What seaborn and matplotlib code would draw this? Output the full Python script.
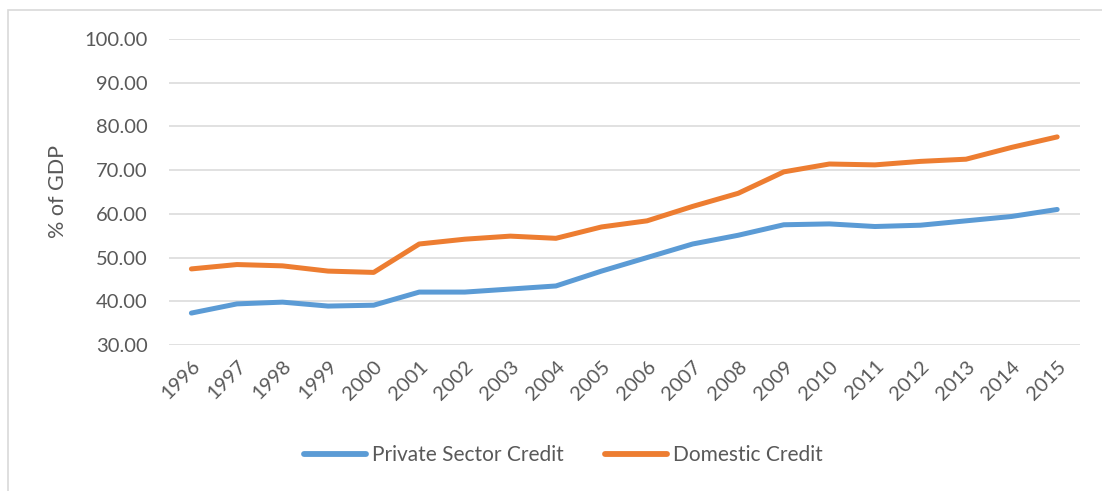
import matplotlib
matplotlib.use("Agg")
import matplotlib.pyplot as plt
import seaborn as sns
import pandas as pd
from matplotlib.patches import Rectangle
from matplotlib.lines import Line2D

years = ["1996", "1997", "1998", "1999", "2000", "2001", "2002", "2003", "2004", "2005",
         "2006", "2007", "2008", "2009", "2010", "2011", "2012", "2013", "2014", "2015"]
private_credit = [37.3, 39.4, 39.8, 38.9, 39.1, 42.1, 42.1, 42.8, 43.5, 46.9,
                  50.0, 53.1, 55.1, 57.5, 57.7, 57.1, 57.4, 58.4, 59.4, 61.0]
domestic_credit = [47.4, 48.4, 48.1, 46.9, 46.6, 53.1, 54.2, 54.9, 54.4, 57.0,
                   58.4, 61.7, 64.7, 69.6, 71.4, 71.2, 72.0, 72.5, 75.2, 77.6]
series_names = ["Private Sector Credit", "Domestic Credit"]
colors = ["#5B9BD5", "#ED7D31"]

df = pd.DataFrame({
    "pos": list(range(len(years))) * 2,
    "value": private_credit + domestic_credit,
    "series": [series_names[0]] * len(years) + [series_names[1]] * len(years),
})

sns.set_theme(style="white")
plt.rcParams["font.family"] = ["Lato", "DejaVu Sans"]

fig = plt.figure(figsize=(11.02, 4.91), dpi=100)
ax = fig.add_axes([0.153, 0.2974, 0.827, 0.6232])

sns.lineplot(data=df, x="pos", y="value", hue="series", palette=colors,
             linewidth=3.6, ax=ax, legend=False, solid_capstyle="round")

ax.set_xlim(-0.5, len(years) - 0.5)
ax.set_ylim(30, 100)
ticks = [30, 40, 50, 60, 70, 80, 90, 100]
ax.set_yticks(ticks)
ax.set_yticklabels([f"{v:.2f}" for v in ticks])
ax.set_xticks(range(len(years)))
ax.set_xticklabels(years, rotation=45, ha="right", rotation_mode="anchor")
ax.tick_params(axis="both", length=0, labelsize=14.5, colors="#595959")
ax.tick_params(axis="x", pad=9)
ax.tick_params(axis="y", pad=15)
ax.yaxis.grid(True, color="#D9D9D9", linewidth=1.1)
ax.set_axisbelow(True)
for s in ax.spines.values():
    s.set_visible(False)
ax.set_xlabel("")
ax.set_ylabel("% of GDP", fontsize=15.5, color="#595959", labelpad=12)

handles = [Line2D([0], [0], color=c, linewidth=4.2, solid_capstyle="round") for c in colors]
leg = fig.legend(handles, series_names, loc="center", bbox_to_anchor=(0.511, 0.073),
                 ncol=2, frameon=False, fontsize=15, handlelength=3.0,
                 handletextpad=0.25, columnspacing=2.0)
for t in leg.get_texts():
    t.set_color("#595959")

fig.patches.append(Rectangle((8 / 1102, -0.1), 1.2, 1.1 - 10 / 491, transform=fig.transFigure,
                             fill=False, edgecolor="#D9D9D9", linewidth=1.2))

fig.savefig("out.png", dpi=100)
